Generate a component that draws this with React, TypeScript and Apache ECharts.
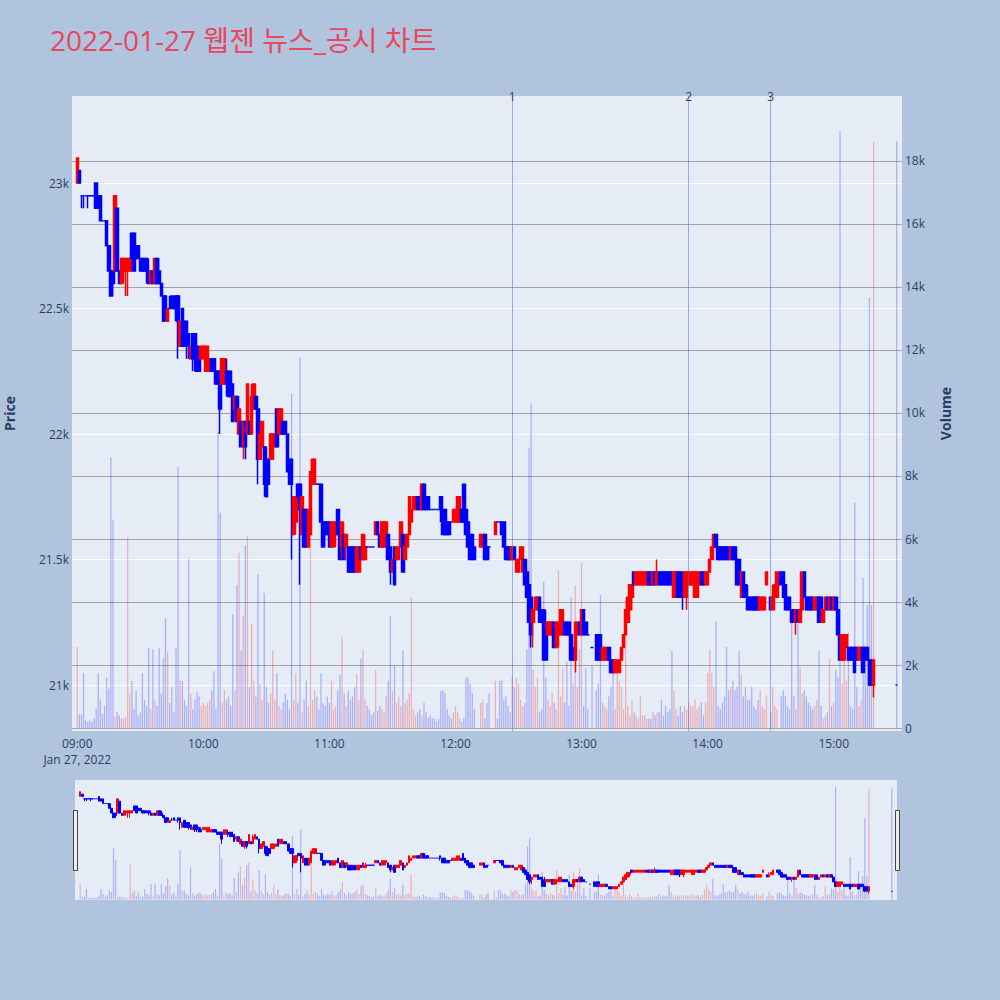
import React, { useEffect, useRef } from "react";
import * as echarts from "echarts";

const TITLE = "2022-01-27 웹젠 뉴스_공시 차트";
const DATE_LABEL = "Jan 27, 2022";
const CATEGORY_COUNT = 395; // 08:58 .. 15:32
const OFFSET = 2; // index of 09:00

// per minute from 09:00: [open, close, low, high]; null = no trade
const candles: (number[] | null)[] = [
  // 09:00
  [23000,23100,23000,23100],[23050,23000,23000,23050],[22950,22950,22900,22950],[22950,22950,22900,22950],[22950,22950,22950,22950],
  [22950,22950,22900,22950],[22950,22950,22950,22950],[22950,22950,22950,22950],[22950,22950,22950,22950],[23000,22900,22900,23000],
  // 09:10
  [22950,22900,22900,22950],[22950,22850,22850,22950],[22850,22850,22850,22850],[22850,22850,22850,22850],[22850,22750,22750,22850],
  [22750,22650,22650,22750],[22650,22550,22550,22650],[22650,22600,22550,22650],[22650,22950,22650,22950],[22900,22650,22650,22900],
  // 09:20
  [22650,22600,22600,22650],[22600,22700,22600,22700],[22650,22700,22600,22700],[22650,22700,22550,22700],[22650,22700,22550,22700],
  [22650,22700,22650,22700],[22800,22700,22700,22800],[22800,22650,22650,22800],[22750,22700,22700,22750],[22750,22700,22700,22750],
  // 09:30
  [22700,22650,22650,22700],[22700,22650,22650,22700],[22700,22650,22650,22700],[22700,22650,22600,22700],[22650,22600,22600,22700],
  [22600,22650,22600,22650],[22650,22600,22600,22650],[22600,22700,22600,22700],[22700,22600,22600,22700],[22650,22600,22600,22700],
  // 09:40
  [22600,22550,22550,22600],[22550,22450,22450,22550],[22550,22500,22450,22550],[22450,22500,22450,22500],[22500,22500,22500,22550],
  [22550,22500,22500,22550],[22500,22500,22500,22500],[22550,22500,22450,22550],[22550,22450,22300,22550],[22350,22450,22350,22450],
  // 09:50
  [22500,22350,22350,22500],[22450,22350,22350,22450],[22450,22350,22300,22450],[22400,22350,22300,22400],[22300,22350,22300,22350],
  [22400,22300,22250,22400],[22400,22300,22250,22400],[22350,22250,22250,22350],[22300,22250,22250,22350],[22300,22350,22300,22350],
  // 10:00
  [22300,22350,22300,22350],[22250,22350,22250,22350],[22250,22350,22250,22350],[22250,22300,22250,22300],[22300,22250,22250,22300],
  [22300,22250,22250,22300],[22250,22200,22200,22250],[22250,22200,22200,22250],[22250,22100,22000,22250],[22200,22300,22200,22300],
  // 10:10
  [22200,22300,22200,22300],[22250,22200,22150,22300],[22250,22150,22150,22250],[22250,22150,22150,22250],[22200,22050,22050,22200],
  [22100,22150,22050,22150],[22150,22050,22050,22150],[22000,22100,22000,22100],[22050,21950,21950,22050],[21950,22050,21900,22050],
  // 10:20
  [22050,21950,21900,22050],[22000,22200,22000,22200],[22050,22000,22000,22050],[22000,22150,22000,22200],[22100,22200,22100,22200],
  [22150,22100,22100,22150],[22100,21900,21800,22100],[21900,22000,21900,22000],[21950,22050,21950,22050],[21950,21800,21750,21950],
  // 10:30
  [21900,21750,21750,21950],[21900,21800,21800,21900],[21900,22000,21900,22000],[21900,22000,21900,22000],[21950,22000,21950,22000],
  [22100,21950,21950,22100],[22000,22100,22000,22100],[22000,22100,22000,22100],[22050,22000,22000,22050],[22050,22000,22000,22050],
  // 10:40
  [22000,21850,21850,22000],[21900,21800,21800,21900],[21900,21800,21500,21900],[21600,21750,21600,21750],[21650,21750,21600,21750],
  [21800,21750,21750,21800],[21800,21700,21400,21800],[21600,21750,21600,21750],[21700,21550,21550,21700],[21700,21550,21550,21700],
  // 10:50
  [21550,21700,21550,21700],[21600,21850,21600,21850],[21800,21900,21800,21900],[21800,21900,21800,21900],[21800,21800,21800,21800],
  [21800,21800,21800,21800],[21800,21650,21650,21800],[21650,21550,21550,21650],[21650,21600,21550,21650],[21650,21600,21600,21650],
  // 11:00
  [21650,21550,21550,21650],[21550,21650,21550,21650],[21550,21650,21550,21650],[21600,21650,21550,21650],[21700,21600,21600,21700],
  [21600,21500,21500,21600],[21550,21650,21500,21650],[21600,21500,21500,21600],[21550,21600,21500,21600],[21550,21450,21450,21550],
  // 11:10
  [21550,21450,21450,21550],[21550,21450,21450,21550],[21550,21450,21450,21550],[21450,21550,21450,21550],[21450,21550,21450,21550],
  [21550,21500,21500,21550],[21500,21600,21500,21600],[21500,21550,21500,21600],[21550,21550,21550,21550],[21550,21550,21550,21550],
  // 11:20
  [21550,21550,21550,21550],[21550,21550,21550,21550],[21600,21650,21600,21650],[21650,21600,21600,21650],[21600,21550,21550,21600],
  [21550,21650,21550,21650],[21550,21650,21550,21650],[21600,21650,21550,21650],[21600,21500,21500,21600],[21550,21450,21400,21550],
  // 11:30
  [21450,21500,21450,21500],[21550,21400,21400,21550],[21500,21550,21500,21550],[21500,21550,21500,21550],[21550,21650,21550,21650],
  [21600,21450,21450,21600],[21500,21550,21500,21550],[21550,21600,21550,21600],[21600,21750,21600,21750],[21650,21700,21650,21700],
  // 11:40
  [21700,21750,21700,21750],[21700,21750,21700,21750],[21750,21700,21700,21750],[21750,21700,21700,21750],[21700,21800,21700,21800],
  [21800,21700,21700,21800],[21750,21700,21700,21750],[21750,21700,21700,21750],[21700,21700,21700,21700],[21700,21700,21700,21700],
  // 11:50
  [21700,21700,21700,21700],[21700,21700,21700,21700],[21700,21700,21700,21700],[21750,21700,21650,21750],[21700,21600,21600,21700],
  [21700,21600,21600,21700],[21650,21600,21600,21650],[21650,21600,21600,21650],[21650,21650,21650,21650],[21650,21700,21650,21700],
  // 12:00
  [21650,21700,21650,21700],[21650,21750,21650,21750],[21650,21750,21650,21750],[21700,21650,21650,21700],[21800,21650,21650,21800],
  [21700,21600,21600,21700],[21650,21550,21550,21650],[21600,21500,21500,21600],[21600,21500,21500,21600],[21550,21500,21500,21550],
  // 12:10
  null,null,[21550,21600,21550,21600],[21550,21600,21550,21600],[21600,21500,21500,21600],
  [21550,21500,21500,21550],[21550,21550,21500,21550],null,null,[21600,21650,21600,21650],
  // 12:20
  [21650,21650,21650,21650],[21650,21650,21650,21650],[21650,21600,21600,21650],[21650,21550,21550,21650],[21550,21500,21500,21550],
  [21550,21500,21500,21550],[21550,21500,21500,21550],[21500,21550,21500,21550],[21550,21500,21500,21550],[21450,21500,21450,21500],
  // 12:30
  [21450,21500,21450,21500],[21500,21550,21500,21550],[21450,21550,21450,21550],[21500,21400,21400,21500],[21450,21350,21350,21450],
  [21400,21250,21250,21400],[21350,21200,21150,21350],[21250,21300,21150,21300],[21300,21350,21300,21350],[21300,21350,21300,21350],
  // 12:40
  [21350,21250,21250,21350],[21300,21250,21250,21300],[21300,21100,21100,21300],[21250,21100,21100,21300],[21200,21250,21200,21250],
  [21200,21250,21200,21250],[21200,21250,21200,21250],[21250,21150,21150,21250],[21150,21250,21150,21250],[21200,21250,21150,21250],
  // 12:50
  [21200,21300,21200,21300],[21200,21300,21200,21300],[21250,21200,21200,21250],[21250,21200,21200,21250],[21250,21200,21200,21250],
  [21200,21100,21100,21200],[21150,21100,21100,21150],[21100,21250,21050,21250],[21200,21250,21200,21250],[21250,21200,21200,21250],
  // 13:00
  [21200,21300,21200,21300],[21300,21200,21200,21300],[21250,21200,21200,21250],[21200,21200,21200,21200],null,
  [21150,21150,21150,21150],null,[21200,21100,21100,21200],[21200,21100,21100,21200],[21200,21100,21100,21200],
  // 13:10
  [21100,21150,21100,21150],[21100,21150,21100,21150],[21100,21150,21100,21150],[21150,21100,21100,21150],[21100,21050,21050,21100],
  [21100,21050,21050,21100],[21050,21100,21050,21100],[21050,21100,21050,21100],[21050,21100,21050,21100],[21100,21150,21100,21150],
  // 13:20
  [21150,21200,21150,21200],[21200,21300,21200,21300],[21250,21350,21250,21350],[21300,21400,21300,21400],[21350,21400,21300,21400],
  [21450,21400,21400,21450],[21400,21450,21400,21450],[21400,21450,21400,21450],[21400,21450,21400,21450],[21400,21450,21400,21450],
  // 13:30
  [21400,21450,21400,21450],[21400,21450,21400,21450],[21450,21400,21400,21450],[21450,21400,21400,21450],[21400,21450,21400,21450],
  [21450,21400,21400,21450],[21400,21450,21400,21500],[21450,21400,21400,21450],[21450,21400,21400,21450],[21450,21400,21400,21450],
  // 13:40
  [21450,21400,21400,21450],[21450,21400,21400,21450],[21450,21400,21400,21450],[21450,21400,21400,21450],[21350,21450,21350,21450],
  [21350,21450,21350,21450],[21450,21350,21350,21450],[21450,21350,21350,21450],[21450,21350,21300,21450],[21350,21450,21350,21450],
  // 13:50
  [21350,21450,21300,21450],[21400,21450,21400,21450],[21400,21450,21400,21450],[21400,21450,21400,21450],[21350,21450,21350,21450],
  [21350,21450,21350,21450],[21400,21450,21400,21450],[21450,21400,21400,21450],[21450,21400,21400,21450],[21400,21450,21400,21450],
  // 14:00
  [21400,21450,21400,21450],[21450,21500,21450,21500],[21500,21550,21500,21550],[21550,21600,21550,21600],[21600,21550,21550,21600],
  [21550,21500,21500,21550],[21550,21500,21500,21550],[21550,21500,21500,21550],[21550,21500,21500,21550],[21550,21500,21500,21550],
  // 14:10
  [21550,21500,21500,21550],[21500,21550,21500,21550],[21550,21500,21500,21550],[21550,21500,21500,21550],[21500,21400,21400,21500],
  [21500,21400,21400,21500],[21350,21450,21350,21450],[21450,21350,21350,21450],[21400,21350,21350,21400],[21350,21300,21300,21400],
  // 14:20
  [21350,21300,21300,21350],[21350,21300,21300,21350],[21350,21300,21300,21350],[21350,21300,21300,21350],[21350,21300,21300,21350],
  [21300,21350,21300,21350],[21300,21350,21300,21350],[21300,21350,21300,21350],[21400,21450,21400,21450],null,
  // 14:30
  [21350,21300,21300,21350],[21300,21350,21300,21400],[21350,21400,21350,21400],[21350,21450,21350,21450],null,
  [21450,21400,21400,21450],[21450,21350,21350,21450],[21400,21300,21300,21400],[21350,21300,21300,21350],[21350,21300,21300,21350],
  // 14:40
  [21300,21250,21250,21300],[21300,21250,21250,21300],[21250,21300,21200,21300],[21300,21250,21250,21300],[21250,21300,21250,21300],
  [21300,21450,21300,21450],[21450,21350,21350,21450],[21350,21300,21300,21350],[21350,21300,21300,21350],[21350,21300,21300,21350],
  // 14:50
  [21350,21300,21300,21350],[21300,21350,21300,21350],[21300,21350,21300,21350],[21350,21250,21250,21350],[21350,21250,21250,21350],
  [21250,21300,21250,21300],[21300,21350,21300,21350],[21350,21300,21300,21350],[21300,21350,21300,21350],[21350,21300,21300,21350],
  // 15:00
  [21300,21350,21300,21350],[21350,21300,21300,21350],[21300,21200,21200,21300],[21200,21100,21100,21200],[21100,21200,21100,21200],
  [21100,21200,21100,21200],[21150,21200,21150,21200],[21150,21100,21100,21150],[21150,21100,21100,21150],[21150,21100,21100,21150],
  // 15:10
  [21150,21050,21050,21150],[21150,21100,21100,21150],[21100,21150,21100,21150],[21100,21150,21100,21150],[21150,21050,21050,21150],
  [21150,21100,21100,21150],[21150,21100,21100,21150],[21100,21000,21000,21100],[21100,21000,21000,21100],[21000,21100,20950,21100],
  // 15:20
  null,null,null,null,null,null,null,null,null,null,
  // 15:30
  [21000,21000,21000,21000],
];

// volume per minute from 09:00
const volumes: number[] = [
  2570,440,440,1740,250,200,250,200,300,600,
  1740,900,450,700,1600,1250,8600,6600,350,500,
  400,300,300,350,6060,1100,1500,600,1180,400,
  500,1750,900,700,2540,600,2500,900,700,2540,
  1100,2220,3490,2400,800,1300,500,2540,8290,1500,
  1500,900,700,5370,1100,600,900,1150,1000,700,
  800,700,800,900,1200,1800,600,9400,6830,800,
  1200,900,1000,700,3620,1200,4540,5560,2470,3560,
  5800,6100,1300,3300,1500,1000,4890,1400,900,4290,
  1300,800,1100,2470,900,1740,700,600,800,1100,
  900,600,10600,890,1740,800,11750,500,900,1500,
  700,8540,900,1200,1000,600,1740,800,700,1000,
  800,1500,600,700,1200,1680,2900,1100,700,1200,
  900,1000,1300,1700,900,2200,2500,900,700,600,
  400,500,1840,550,700,600,500,1000,1500,3560,
  1170,2000,800,1000,700,2470,800,900,1100,4150,
  600,400,500,600,400,800,500,300,400,300,
  300,200,300,1170,1200,1100,600,400,300,500,
  700,500,300,200,300,1600,1600,1400,1100,600,
  0,0,800,900,300,800,1100,0,0,1500,
  300,1500,1500,900,1000,700,500,1600,1300,1600,
  1400,900,700,800,2500,8900,10300,1840,1300,1600,
  500,600,4640,1600,900,700,1100,800,600,5000,
  1000,1900,800,2100,700,4150,1400,4530,1300,2500,
  5260,700,1900,600,0,2000,0,1200,1400,4220,
  800,700,600,1000,1300,2150,600,1700,1500,1300,
  600,4060,700,400,900,500,400,300,1000,400,
  400,300,300,300,500,400,500,500,900,400,
  700,500,600,2450,1200,600,400,700,500,700,
  600,800,700,700,900,600,700,800,400,800,
  1750,2500,1750,1300,3380,700,600,800,1000,2570,
  1200,1300,1500,1200,1300,2450,1700,1000,1300,900,
  900,1300,700,600,900,1200,700,600,1000,0,
  500,1300,700,600,0,1000,1200,1000,700,600,
  3380,1000,600,3300,1900,1100,1200,1000,800,700,
  600,700,900,2450,700,300,400,500,2200,700,
  800,1850,1600,18950,1400,2300,1500,3030,700,600,
  7140,1300,700,900,4760,2300,3900,13650,3900,18620,
  0,0,0,0,0,0,0,0,0,0,
  18630,
];

const newsTimes = ["12:27", "13:51", "14:30"];
const newsLabels = ["1", "2", "3"];
const priceTicks = [21000, 21500, 22000, 22500, 23000];
const volumeTicks = [0, 2000, 4000, 6000, 8000, 10000, 12000, 14000, 16000, 18000];

const PRICE_MIN = 20817;
const PRICE_MAX = 23347;
const VOL_MIN = -95;
const VOL_MAX = 20063;

const pad = (n: number) => (n < 10 ? "0" + n : "" + n);
const categories = Array.from({ length: CATEGORY_COUNT }, (_, i) => {
  const t = 8 * 60 + 58 + i;
  return pad(Math.floor(t / 60)) + ":" + pad(t % 60);
});

const FONT = "'Open Sans', 'Noto Sans CJK KR', sans-serif";
const TEXT = "#2a3f5f";
const RED = "#ff0000";
const BLUE = "#0000ff";

export default function App() {
  const ref = useRef<HTMLDivElement>(null);

  useEffect(() => {
    if (!ref.current) return;
    const chart = echarts.init(ref.current, null, { renderer: "svg" });

    const candleData = categories.map((_, i) => {
      const c = candles[i - OFFSET];
      if (!c) return "-";
      const col = c[1] > c[0] ? RED : BLUE;
      return {
        value: c,
        itemStyle: { color: col, color0: col, borderColor: col, borderColor0: col },
      };
    });
    const volumeData = categories.map((_, i) => {
      const m = i - OFFSET;
      const v = volumes[m];
      const c = candles[m];
      if (!v || !c) return "-";
      const up = c[1] > c[0];
      return {
        value: v,
        itemStyle: { color: up ? "rgba(255,0,0,0.25)" : "rgba(0,0,255,0.25)" },
      };
    });

    const kFmt = (v: number) => (v === 0 ? "0" : v / 1000 + "k");

    const option: any = {
      animation: false,
      backgroundColor: "#b0c4de",
      title: {
        text: TITLE,
        left: 45,
        top: 21,
        textStyle: { color: "#e8475f", fontSize: 28, fontWeight: "normal", fontFamily: FONT },
      },
      grid: [
        { left: 72, top: 96, width: 830, height: 635, show: true, backgroundColor: "#e5ecf6", borderWidth: 0, outerBoundsMode: "none", containLabel: false },
        { left: 75, top: 780, width: 822, height: 120, show: true, backgroundColor: "#e5ecf6", borderWidth: 0, outerBoundsMode: "none", containLabel: false },
      ],
      xAxis: [
        {
          type: "category",
          gridIndex: 0,
          data: categories,
          boundaryGap: true,
          axisLine: { show: false },
          axisTick: { show: false },
          splitLine: { show: false },
          axisLabel: {
            interval: (_i: number, v: string) => v.endsWith(":00"),
            formatter: (v: string) => (v === "09:00" ? `09:00\n${DATE_LABEL}` : v),
            color: TEXT,
            fontSize: 12,
            fontFamily: FONT,
            margin: 4,
            lineHeight: 16,
          },
        },
        { type: "category", gridIndex: 1, data: categories, boundaryGap: true, show: false },
      ],
      yAxis: [
        {
          type: "value",
          gridIndex: 0,
          position: "left",
          min: PRICE_MIN,
          max: PRICE_MAX,
          name: "Price",
          nameLocation: "middle",
          nameGap: 56,
          nameTextStyle: { color: TEXT, fontSize: 14, fontWeight: "bold", fontFamily: FONT },
          axisLine: { show: false },
          axisTick: { show: false, customValues: priceTicks },
          axisLabel: { customValues: priceTicks, formatter: kFmt, color: TEXT, fontSize: 12, fontFamily: FONT, margin: 3 },
          splitLine: { show: true, lineStyle: { color: "#ffffff", width: 1 } },
        },
        {
          type: "value",
          gridIndex: 0,
          position: "right",
          min: VOL_MIN,
          max: VOL_MAX,
          name: "Volume",
          nameLocation: "middle",
          nameGap: 36,
          nameTextStyle: { color: TEXT, fontSize: 14, fontWeight: "bold", fontFamily: FONT },
          axisLine: { show: false },
          axisTick: { show: false, customValues: volumeTicks },
          axisLabel: { customValues: volumeTicks, formatter: kFmt, color: TEXT, fontSize: 12, fontFamily: FONT, margin: 3 },
          splitLine: { show: true, lineStyle: { color: "#a3a3a3", width: 1 } },
        },
        { type: "value", gridIndex: 1, min: PRICE_MIN, max: PRICE_MAX, show: false, splitLine: { show: false } },
        { type: "value", gridIndex: 1, min: VOL_MIN, max: VOL_MAX, show: false, splitLine: { show: false } },
      ],
      series: [
        {
          type: "bar",
          xAxisIndex: 0,
          yAxisIndex: 1,
          data: volumeData,
          barWidth: 1.3,
          silent: true,
        },
        {
          type: "candlestick",
          xAxisIndex: 0,
          yAxisIndex: 0,
          data: candleData,
          barWidth: 3,
          itemStyle: { color: RED, color0: BLUE, borderColor: RED, borderColor0: BLUE, borderWidth: 1.5 },
          markLine: {
            silent: true,
            symbol: ["none", "none"],
            lineStyle: { color: "rgba(65,105,225,0.5)", width: 1, type: "solid" },
            label: { show: true, position: "end", color: "#444", fontSize: 12, fontFamily: FONT, distance: -6 },
            data: newsTimes.map((t, i) => ({ xAxis: t, label: { formatter: newsLabels[i] } })),
          },
        },
        {
          type: "bar",
          xAxisIndex: 1,
          yAxisIndex: 3,
          data: volumeData,
          barWidth: 1.2,
          silent: true,
        },
        {
          type: "candlestick",
          xAxisIndex: 1,
          yAxisIndex: 2,
          data: candleData,
          barWidth: 2,
          itemStyle: { color: RED, color0: BLUE, borderColor: RED, borderColor0: BLUE, borderWidth: 1 },
        },
      ],
      graphic: [
        { type: "rect", left: 73, top: 810, shape: { width: 4, height: 60 }, style: { fill: "#eeeeee", stroke: "#444", lineWidth: 1 } },
        { type: "rect", left: 895, top: 810, shape: { width: 4, height: 60 }, style: { fill: "#eeeeee", stroke: "#444", lineWidth: 1 } },
      ],
    };

    chart.setOption(option);
    return () => chart.dispose();
  }, []);

  return (
    <div
      ref={ref}
      style={{ position: "absolute", left: 0, top: 0, width: 1000, height: 1000 }}
    />
  );
}
